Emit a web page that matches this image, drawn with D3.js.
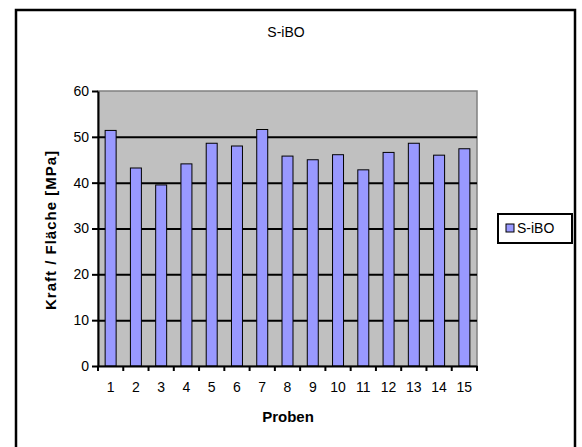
<!DOCTYPE html>
<html>
<head>
  <script src="https://d3js.org/d3.v7.min.js"></script>
  <style>
    body { margin: 0; background: #fff; }
    text { font-family: "Liberation Sans", Arial, sans-serif; fill: #000; }
    .axis text { font-size: 14px; }
    .axis path, .axis line { stroke: #000; stroke-width: 2px; }
    .grid line { stroke: #000; stroke-width: 2px; }
    .grid path { display: none; }
  </style>
</head>
<body>
  <script>
    // Probe numbers and measured values
    var proben = ["1","2","3","4","5","6","7","8","9","10","11","12","13","14","15"];
    var werte = [51.4, 43.2, 39.5, 44.1, 48.6, 48.0, 51.6, 45.8, 45.0, 46.1, 42.8, 46.6, 48.6, 46.0, 47.4];
    var yTicks = [0, 10, 20, 30, 40, 50, 60];
    var serie = "S-iBO";

    var width = 582, height = 447;
    var svg = d3.select("body").append("svg")
        .attr("width", width)
        .attr("height", height);

    // outer chart frame (bottom runs off the picture)
    svg.append("path")
        .attr("d", "M16,460V10H575V460")
        .attr("fill", "none")
        .attr("stroke", "#000")
        .attr("stroke-width", 2.5);

    var pLeft = 98, pRight = 477, pTop = 91, pBottom = 366;

    var x = d3.scaleBand()
        .domain(proben)
        .range([pLeft, pRight])
        .paddingInner(0)
        .paddingOuter(0);
    var y = d3.scaleLinear()
        .domain([0, 60])
        .range([pBottom, pTop]);

    // plot area
    svg.append("rect")
        .attr("x", pLeft).attr("y", pTop)
        .attr("width", pRight - pLeft).attr("height", pBottom - pTop)
        .attr("fill", "#c0c0c0")
        .attr("stroke", "#808080")
        .attr("stroke-width", 1.5);

    // gridlines
    svg.append("g")
        .attr("class", "grid")
        .attr("transform", "translate(" + pLeft + ",0)")
        .call(d3.axisLeft(y).tickValues(yTicks.slice(1, -1)).tickSize(-(pRight - pLeft)).tickFormat(""));

    // bars, width like excel gap 130%
    var bw = x.bandwidth() / 2.3;
    svg.selectAll(".bar")
        .data(werte)
      .enter()
        .append("rect")
        .attr("class", "bar")
        .attr("x", function(d, i) { return x(proben[i]) + (x.bandwidth() - bw) / 2; })
        .attr("y", function(d) { return y(d); })
        .attr("width", bw)
        .attr("height", function(d) { return y(0) - y(d); })
        .attr("fill", "#9999ff")
        .attr("stroke", "#000")
        .attr("stroke-width", 1);

    // y axis
    svg.append("g")
        .attr("class", "axis")
        .attr("transform", "translate(" + pLeft + ",0)")
        .call(d3.axisLeft(y).tickValues(yTicks).tickSize(6).tickSizeOuter(0).tickPadding(3));

    // x axis, ticks at category boundaries
    var xAxis = svg.append("g")
        .attr("class", "axis")
        .attr("transform", "translate(0," + pBottom + ")")
        .call(d3.axisBottom(x).tickSize(0).tickPadding(16));
    xAxis.selectAll(".bound")
        .data(d3.range(proben.length + 1))
      .enter()
        .append("line")
        .attr("x1", function(i) { return pLeft + i * x.step(); })
        .attr("x2", function(i) { return pLeft + i * x.step(); })
        .attr("y1", 0).attr("y2", 5);

    // title and axis titles
    svg.append("text")
        .attr("x", 286).attr("y", 37)
        .attr("text-anchor", "middle")
        .style("font-size", "14px")
        .text(serie);
    svg.append("text")
        .attr("x", 288).attr("y", 422)
        .attr("text-anchor", "middle")
        .style("font-size", "15px")
        .style("font-weight", "bold")
        .text("Proben");
    svg.append("text")
        .attr("transform", "translate(56,230) rotate(-90)")
        .attr("text-anchor", "middle")
        .style("font-size", "15px")
        .style("font-weight", "bold")
        .style("letter-spacing", "1px")
        .text("Kraft / Fläche [MPa]");

    // legend
    var lg = svg.append("g");
    lg.append("rect")
        .attr("x", 498).attr("y", 214)
        .attr("width", 74).attr("height", 29)
        .attr("fill", "#fff")
        .attr("stroke", "#000")
        .attr("stroke-width", 2);
    lg.append("rect")
        .attr("x", 506).attr("y", 224)
        .attr("width", 8).attr("height", 8)
        .attr("fill", "#9999ff")
        .attr("stroke", "#000")
        .attr("stroke-width", 1);
    lg.append("text")
        .attr("x", 517).attr("y", 233)
        .style("font-size", "14px")
        .text(serie);
  </script>
</body>
</html>
